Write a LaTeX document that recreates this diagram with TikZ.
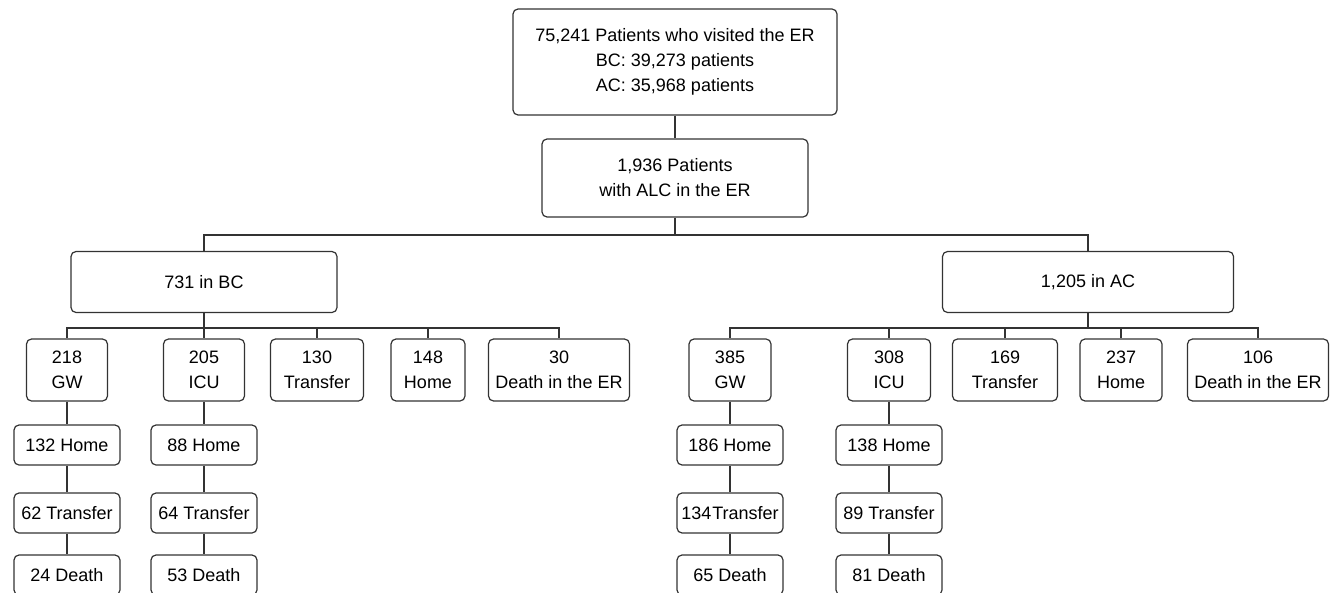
\documentclass[tikz,border=0pt]{standalone}
\usepackage{fontspec}
\setmainfont{Liberation Sans}
\usetikzlibrary{positioning,calc}
\definecolor{inkgray}{RGB}{51,51,51}
\colorlet{figink}{inkgray}

\begin{document}
\begin{tikzpicture}[
  x=0.5pt, y=-0.5pt,
  font=\fontsize{9}{12.5}\selectfont,
  box/.style={draw=figink, line width=0.6pt, rounded corners=2.5pt, align=center, inner sep=0pt},
  link/.style={draw=figink, line width=0.6pt},
]
  \useasboundingbox (0,0) rectangle (1336,593);
  % top of the tree
  \node[box, minimum width=162pt, minimum height=53pt] (visit) at (675,62)
    {75,241 Patients who visited the ER\\BC: 39,273 patients\\AC: 35,968 patients};
  \node[box, minimum width=133pt, minimum height=39pt] (alc) at (675,178)
    {1,936 Patients\\with ALC in the ER};
  \node[box, minimum width=133pt, minimum height=30.5pt] (bc) at (204,282) {731 in BC};
  \node[box, minimum width=145.5pt, minimum height=30.5pt] (ac) at (1088,282) {1,205 in AC};
  \coordinate (split) at (675,235);
  \coordinate (bcbus) at (204,328);
  \coordinate (acbus) at (1088,328);
  \draw[link] (visit) -- (alc);
  \draw[link] (alc) -- (split);
  \draw[link] (bc) |- (split) -| (ac);
  \draw[link] (bc) -- (bcbus);
  \draw[link] (ac) -- (acbus);
  % where the patients went from the ER
  \foreach \g/\n/\x/\w/\lab in {
      bc/1/67/40.5/{218\\GW}, bc/2/204/40.5/{205\\ICU}, bc/3/317/46.5/{130\\Transfer},
      bc/4/428/37/{148\\Home}, bc/5/559/70.5/{30\\Death in the ER},
      ac/1/730/41/{385\\GW}, ac/2/889/41.5/{308\\ICU}, ac/3/1005/52.5/{169\\Transfer},
      ac/4/1121/41/{237\\Home}, ac/5/1258/70.5/{106\\Death in the ER}} {
    \node[box, minimum width=\w pt, minimum height=31pt] (\g\n) at (\x,370) {\lab};
    \draw[link] (\g bus) -| (\g\n);
  }
  % outcome after GW / ICU admission
  \foreach \g/\x/\a/\b/\c in {bc1/67/132/62/24, bc2/204/88/64/53,
      ac1/730/186/{134\kern-2pt}/65, ac2/889/138/89/81} {
    \node[box, minimum width=53pt, minimum height=20pt] (\g-home) at (\x,445) {\a{} Home};
    \node[box, minimum width=53pt, minimum height=20pt] (\g-tr) at (\x,513) {\b{} Transfer};
    \node[box, minimum width=53pt, minimum height=20pt] (\g-death) at (\x,575) {\c{} Death};
    \draw[link] (\g) -- (\g-home) -- (\g-tr) -- (\g-death);
  }
\end{tikzpicture}
\end{document}
